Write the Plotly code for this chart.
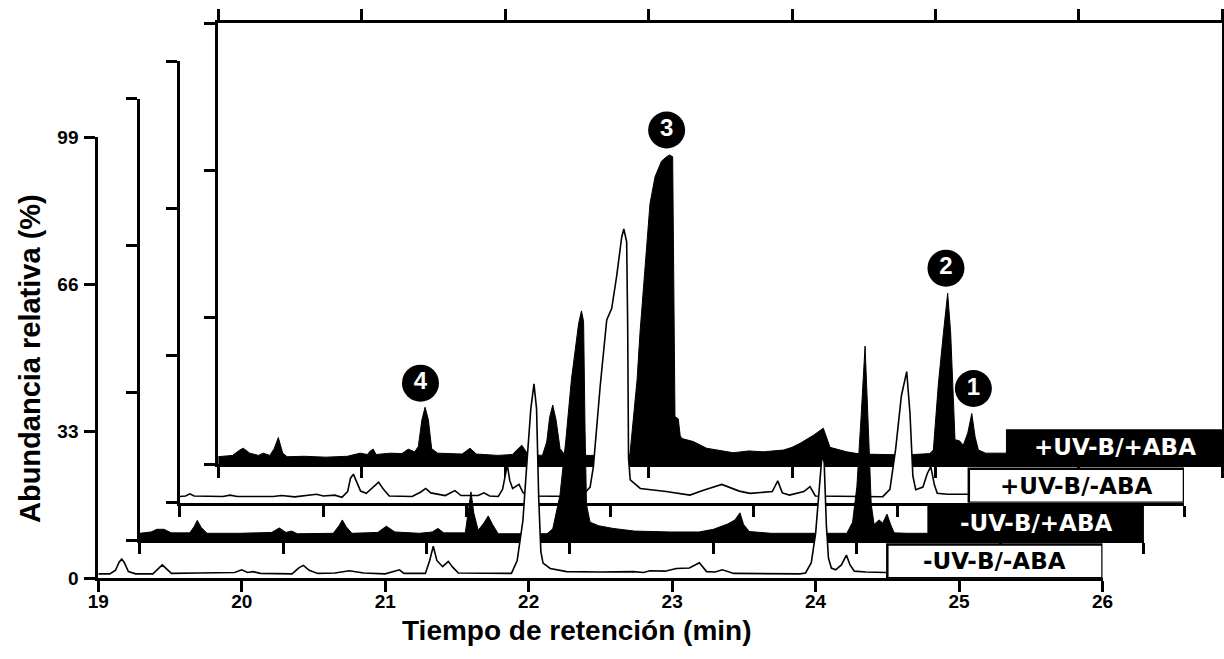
import plotly.graph_objects as go

# ---------------- data ----------------
# Retention time (min) / relative abundance (%) vertices of each chromatogram
t_m_uvb_m_aba = [19.00, 19.08, 19.12, 19.145, 19.163, 19.18, 19.21, 19.26, 19.38, 19.42, 19.446, 19.47, 19.51,
                 19.70, 19.95, 20.00, 20.04, 20.08, 20.13, 20.35, 20.40, 20.43, 20.47, 20.53, 20.65, 20.75, 20.85,
                 21.00, 21.10, 21.13, 21.28, 21.31, 21.335, 21.36, 21.40, 21.44, 21.47, 21.51, 21.88, 21.92, 21.96,
                 21.99, 22.015, 22.037, 22.055, 22.07, 22.085, 22.10, 22.15, 22.265, 22.50, 22.73, 22.80, 22.846,
                 22.95, 23.03, 23.12, 23.19, 23.24, 23.30, 23.35, 23.43, 23.89, 23.93, 23.97, 24.00, 24.025,
                 24.045, 24.06, 24.075, 24.09, 24.11, 24.14, 24.18, 24.215, 24.24, 24.27, 24.35, 24.49]
y_m_uvb_m_aba = [1.0, 1.0, 1.8, 3.6, 4.3, 3.6, 1.5, 1.0, 1.0, 2.3, 3.0, 2.3, 1.1,
                 1.2, 1.3, 1.9, 1.3, 1.5, 1.1, 1.0, 2.4, 2.9, 1.8, 1.1, 1.2, 1.7, 1.2,
                 1.0, 1.9, 1.1, 1.1, 4.0, 7.2, 4.0, 2.6, 3.8, 2.5, 1.2, 1.1, 4.0, 13.0,
                 27.0, 38.0, 43.6, 38.0, 18.0, 6.0, 3.4, 2.2, 1.5, 1.4, 1.5, 1.3, 1.7,
                 1.6, 2.2, 2.3, 3.5, 1.5, 1.4, 1.9, 1.1, 1.0, 1.2, 3.5, 10.0, 20.0,
                 27.7, 26.0, 12.0, 4.5, 2.3, 1.9, 3.0, 5.2, 3.0, 1.6, 1.4, 1.3]

t_m_uvb_p_aba = [19.00, 19.08, 19.12, 19.17, 19.22, 19.35, 19.38, 19.402, 19.43, 19.47, 19.70, 19.92, 19.974,
                 20.02, 20.06, 20.10, 20.35, 20.39, 20.413, 20.44, 20.48, 20.66, 20.72, 20.78, 20.95, 21.04,
                 21.08, 21.12, 21.27, 21.29, 21.31, 21.33, 21.36, 21.40, 21.43, 21.46, 21.50, 21.84, 21.88,
                 21.93, 21.97, 22.01, 22.04, 22.06, 22.08, 22.095, 22.105, 22.115, 22.14, 22.20, 22.30, 22.45,
                 22.70, 22.90, 23.00, 23.10, 23.15, 23.185, 23.21, 23.25, 23.40, 23.93, 23.97, 24.00, 24.03,
                 24.057, 24.08, 24.10, 24.12, 24.155, 24.18, 24.21, 24.235, 24.26, 24.35, 24.498]
y_m_uvb_p_aba = [1.5, 1.8, 2.4, 2.4, 1.6, 1.6, 3.0, 4.4, 2.8, 1.5, 1.5, 1.7, 2.7,
                 1.7, 2.0, 1.4, 1.5, 3.2, 4.5, 3.0, 1.5, 1.7, 3.1, 1.8, 1.5, 1.8,
                 2.6, 1.6, 1.6, 6.0, 10.8, 6.0, 2.2, 3.8, 5.4, 3.5, 1.4, 1.4, 2.5,
                 10.0, 22.0, 36.0, 44.0, 48.5, 51.4, 49.0, 25.0, 8.0, 4.0, 3.2, 2.6, 2.0,
                 1.8, 1.8, 2.4, 3.6, 4.5, 6.1, 3.5, 1.9, 1.5, 1.5, 4.0, 12.0, 28.0,
                 43.5, 25.0, 8.0, 3.5, 4.5, 3.8, 5.8, 3.5, 1.6, 1.5, 1.5]

t_p_uvb_m_aba = [19.00, 19.04, 19.07, 19.10, 19.30, 19.35, 19.40, 19.65, 19.71, 19.80, 19.954, 20.00, 20.08,
                 20.13, 20.17, 20.19, 20.21, 20.23, 20.26, 20.30, 20.35, 20.386, 20.42, 20.46, 20.62, 20.68,
                 20.714, 20.75, 20.85, 20.918, 20.96, 21.08, 21.12, 21.16, 21.22, 21.25, 21.283, 21.30, 21.32,
                 21.365, 21.39, 21.42, 21.80, 21.86, 21.883, 21.93, 21.976, 22.011, 22.046, 22.08, 22.095,
                 22.115, 22.122, 22.128, 22.14, 22.21, 22.39, 22.556, 22.65, 22.778, 22.90, 22.975, 23.13,
                 23.168, 23.20, 23.25, 23.35, 23.393, 23.43, 23.90, 23.95, 23.99, 24.03, 24.067, 24.09, 24.11,
                 24.13, 24.18, 24.21, 24.235, 24.26, 24.28, 24.35, 24.497]
y_p_uvb_m_aba = [1.4, 1.5, 2.0, 1.5, 1.4, 1.7, 1.4, 1.4, 1.6, 1.3, 1.9, 1.5, 1.7,
                 1.2, 2.5, 5.5, 6.4, 5.0, 2.6, 2.1, 3.5, 4.6, 3.0, 1.5, 1.4, 2.4,
                 3.2, 2.2, 1.6, 2.7, 1.6, 1.6, 2.2, 1.5, 1.4, 3.0, 8.5, 5.0, 3.2,
                 4.1, 2.4, 1.5, 1.4, 3.5, 8.1, 26.0, 41.0, 43.6, 51.0, 59.5, 61.4,
                 58.5, 40.0, 10.0, 5.1, 3.2, 2.5, 1.7, 2.8, 4.1, 2.6, 2.1, 2.5,
                 4.9, 2.2, 1.7, 2.5, 3.6, 1.5, 1.35, 3.0, 12.0, 24.0, 29.4, 20.0, 6.0,
                 2.9, 3.5, 6.5, 8.1, 4.0, 2.1, 1.9, 1.9]

t_p_uvb_p_aba = [19.00, 19.10, 19.15, 19.175, 19.22, 19.28, 19.314, 19.36, 19.39, 19.419, 19.45, 19.48, 19.60,
                 19.75, 19.90, 19.989, 20.04, 20.06, 20.081, 20.10, 20.20, 20.28, 20.325, 20.37, 20.395, 20.42,
                 20.442, 20.465, 20.488, 20.53, 20.70, 20.755, 20.80, 20.95, 21.05, 21.116, 21.16, 21.26, 21.29,
                 21.31, 21.332, 21.355, 21.383, 21.42, 21.70, 21.87, 21.92, 21.94, 21.975, 22.01, 22.045, 22.09,
                 22.126, 22.145, 22.168, 22.175, 22.18, 22.184, 22.207, 22.22, 22.231, 22.312, 22.405, 22.59,
                 22.70, 22.80, 22.94, 23.00, 23.056, 23.149, 23.218, 23.24, 23.265, 23.381, 23.474, 23.80, 23.96,
                 23.985, 24.02, 24.055, 24.085, 24.106, 24.124, 24.136, 24.166, 24.194, 24.225, 24.253, 24.276,
                 24.299, 24.35, 24.499]
y_p_uvb_p_aba = [1.7, 2.0, 3.2, 3.6, 2.5, 2.0, 2.5, 2.0, 3.5, 6.0, 2.5, 1.7, 1.8,
                 1.6, 1.8, 2.5, 2.2, 3.0, 3.4, 2.2, 2.5, 2.4, 3.4, 2.8, 4.0, 10.0,
                 12.8, 10.0, 3.5, 2.5, 2.3, 3.6, 2.3, 2.0, 2.2, 4.3, 2.2, 2.0, 5.0,
                 10.5, 13.3, 10.0, 3.5, 2.0, 2.0, 2.2, 19.0, 29.4, 44.0, 58.5, 64.5, 68.0,
                 69.0, 69.4, 69.0, 45.0, 15.0, 10.7, 10.2, 6.5, 5.8, 5.1, 3.6, 2.6,
                 3.0, 2.8, 3.2, 3.8, 4.7, 6.5, 8.1, 6.0, 3.8, 2.8, 2.3, 2.1, 2.4,
                 3.2, 18.0, 29.4, 38.4, 29.4, 14.4, 5.5, 5.3, 4.3, 7.0, 11.4, 6.2,
                 3.2, 2.5, 2.5]

series_names = ["-UV-B/-ABA", "-UV-B/+ABA", "+UV-B/-ABA", "+UV-B/+ABA"]
x_ticks = [19, 20, 21, 22, 23, 24, 25, 26]
y_ticks = [0, 33, 66, 99]
y_tick_text = ["0", "33", "66", "99"]

peak_ids = ["4", "3", "2", "1"]
peak_label_t = [20.41, 22.126, 24.073, 24.264]
peak_label_y = [18.2, 75.0, 44.0, 17.0]

# ---------------- layout geometry ----------------
W, H = 1224, 659
# pixel origin (x of t=19, y of abundance 0) of each stacked panel, front -> back
origins = [(98.3, 578.3), (139.6, 540.0), (179.8, 502.7), (218.2, 464.3)]
PX_W = 1004.2
PX_H = 441.3

series = [
    (t_m_uvb_m_aba, y_m_uvb_m_aba, "white"),
    (t_m_uvb_p_aba, y_m_uvb_p_aba, "black"),
    (t_p_uvb_m_aba, y_p_uvb_m_aba, "white"),
    (t_p_uvb_p_aba, y_p_uvb_p_aba, "black"),
]

BOLD = dict(family="Liberation Sans, Arial, sans-serif", weight="bold", color="black")

fig = go.Figure()
layout = dict(width=W, height=H, margin=dict(l=0, r=0, t=0, b=0),
              paper_bgcolor="white", plot_bgcolor="rgba(0,0,0,0)",
              showlegend=False, hovermode=False)

shapes = []
annotations = []
# draw from back (index 3) to front (index 0); back panel uses axis id 1
for axis_n, k in enumerate([3, 2, 1, 0], start=1):
    sfx = "" if axis_n == 1 else str(axis_n)
    xa, ya = "x" + sfx, "y" + sfx
    X0, B = origins[k]
    t, y, fillc = series[k]
    fig.add_trace(go.Scatter(x=t, y=y, xaxis=xa, yaxis=ya, mode="lines",
                             line=dict(color="black", width=1.6 if fillc == "white" else 1.0),
                             fill="tozeroy", fillcolor=fillc, hoverinfo="skip"))
    front = (k == 0)
    back = (k == 3)
    layout["xaxis" + sfx] = dict(
        domain=[X0 / W, (X0 + PX_W) / W], range=[19, 26], anchor=ya,
        tickvals=x_ticks, ticks="outside", ticklen=11, tickwidth=3, tickcolor="black",
        showline=True, linewidth=3, linecolor="black", showgrid=False, zeroline=False,
        showticklabels=front, tickfont=dict(size=19, **BOLD), ticklabelstandoff=-7,
        mirror="ticks" if back else False, fixedrange=True, automargin=False)
    layout["yaxis" + sfx] = dict(
        domain=[1 - B / H, 1 - (B - PX_H) / H], range=[0, 99], anchor=xa,
        tickvals=y_ticks, ticktext=y_tick_text, ticks="outside", ticklen=11, tickwidth=3,
        tickcolor="black", showline=True, linewidth=3, linecolor="black", showgrid=False,
        zeroline=False, showticklabels=front, tickfont=dict(size=19, **BOLD),
        ticklabelstandoff=2, mirror=True if back else False, fixedrange=True, automargin=False)
    # sample label box at the right end of each trace
    shapes.append(dict(type="rect", xref=xa, yref=ya, x0=24.5, x1=26.0 if not back else 26.02,
                       y0=0, y1=7.6, fillcolor=fillc,
                       line=dict(color="black", width=2.5), layer="above"))
    annotations.append(dict(xref=xa, yref=ya, x=25.25, y=3.8, text=series_names[k], showarrow=False,
                            xanchor="center", yanchor="middle",
                            font=dict(family="DejaVu Sans, sans-serif", weight="bold", size=23,
                                      color="black" if fillc == "white" else "white")))
    if back:
        fig.add_trace(go.Scatter(x=peak_label_t, y=peak_label_y, xaxis=xa, yaxis=ya,
                                 mode="markers+text", text=peak_ids, textposition="middle center",
                                 marker=dict(size=37, color="black", line=dict(width=0)),
                                 textfont=dict(family="Liberation Sans, Arial, sans-serif",
                                               weight="bold", size=24, color="white"),
                                 cliponaxis=False, hoverinfo="skip"))

annotations.append(dict(xref="paper", yref="paper", x=30 / W, y=1 - 359 / H,
                        text="Abundancia relativa (%)", textangle=-90, showarrow=False,
                        xanchor="center", yanchor="middle", font=dict(size=29, **BOLD)))
annotations.append(dict(xref="paper", yref="paper", x=577 / W, y=1 - 630 / H,
                        text="Tiempo de retención (min)", showarrow=False,
                        xanchor="center", yanchor="middle", font=dict(size=28, **BOLD)))

layout["shapes"] = shapes
layout["annotations"] = annotations
fig.update_layout(**layout)
fig.write_html("out.html", config={"displayModeBar": False},
               post_script="document.body.style.margin='0';document.body.style.overflow='hidden';")
